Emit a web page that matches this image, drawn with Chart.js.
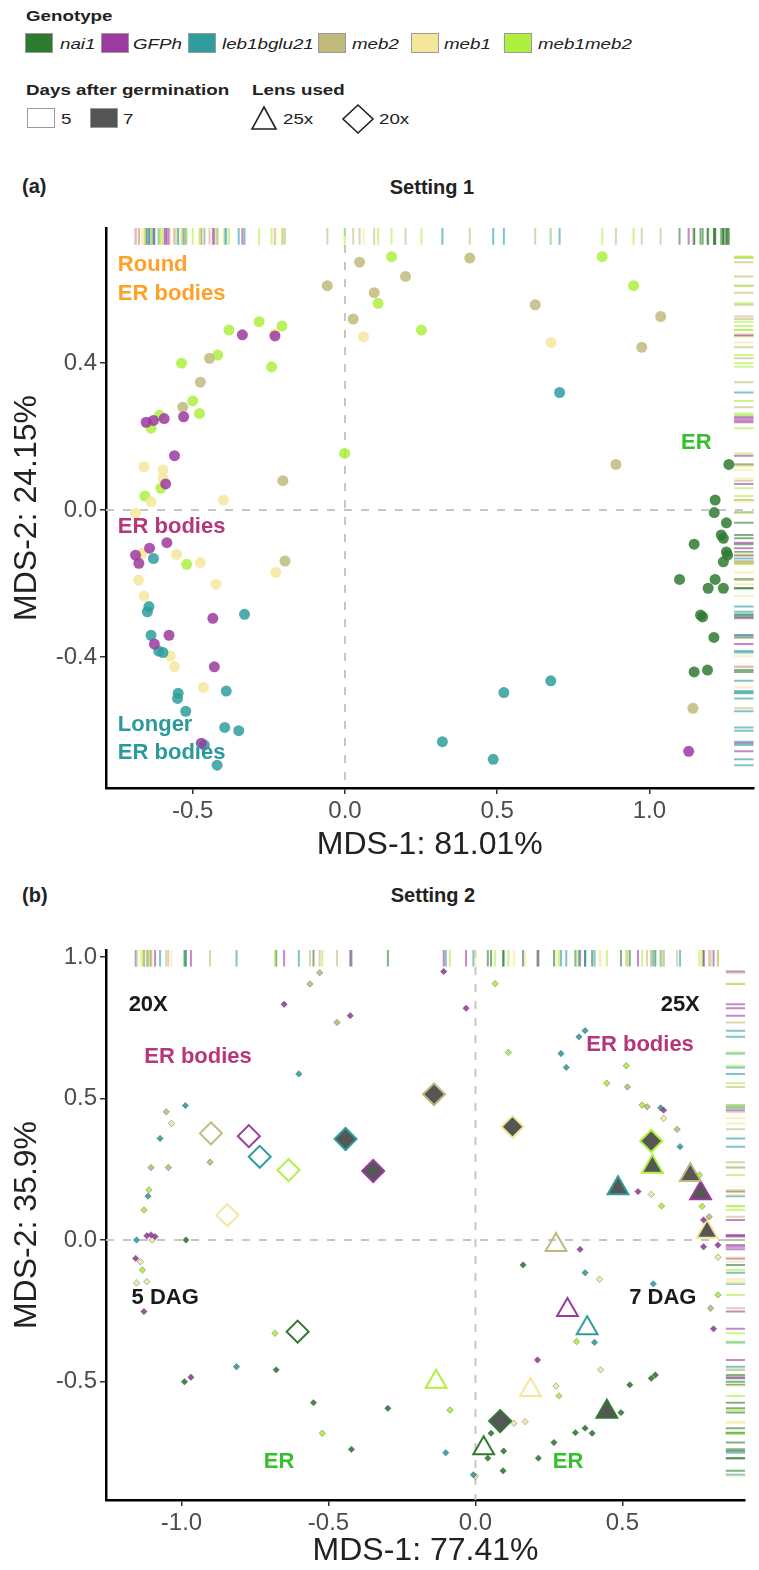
<!DOCTYPE html>
<html lang="en">
<head>
<meta charset="UTF-8">
<title>MDS of ER morphology - Setting 1 / Setting 2</title>
<script src="https://cdn.jsdelivr.net/npm/chart.js"></script>
<style>
  body { margin: 0; background: #fff; font-family: 'Liberation Sans', Arial, sans-serif; color: #222; }
  #page { position: relative; width: 759px; height: 1570px; overflow: hidden; }
  .t { position: absolute; white-space: nowrap; transform-origin: left center; transform: translateY(-50%) scaleX(1.25); font-size: 15px; }
  .b { font-weight: bold; }
  .i { font-style: italic; }
  .key { position: absolute; width: 28px; height: 20px; box-sizing: border-box; border: 1px solid #9a9a9a; }
  .ptitle { position: absolute; font-weight: bold; font-size: 20px; transform: translateY(-50%); white-space: nowrap; }
  canvas { position: absolute; left: 0; }
</style>
</head>
<body>
<div id="page">
  <div id="legend"></div>

  <div class="ptitle" style="left:22px; top:186px">(a)</div>
  <div class="ptitle" style="left:432px; top:187px; transform:translate(-50%,-50%)">Setting 1</div>
  <canvas id="plotA" width="759" height="670" style="top:200px"></canvas>

  <div class="ptitle" style="left:22px; top:895px">(b)</div>
  <div class="ptitle" style="left:433px; top:895px; transform:translate(-50%,-50%)">Setting 2</div>
  <canvas id="plotB" width="759" height="670" style="top:900px"></canvas>
</div>

<script>
  // genotypes and their colours (legend order)
  const genotypes = ['nai1', 'GFPh', 'leb1bglu21', 'meb2', 'meb1', 'meb1meb2'];
  const genoColors = ['#2f7a31', '#9c3aa0', '#2f9d9d', '#bfba7c', '#f4e79c', '#aef040'];

  // ---- Setting 1: [MDS-1, MDS-2] per sample ----
  const s1_nai1 = [[1.261,0.124],[1.216,0.027],[1.213,-0.007],[1.253,-0.035],[1.236,-0.068],[1.243,-0.077],[1.147,-0.093],
    [1.253,-0.114],[1.257,-0.123],[1.243,-0.141],[1.099,-0.189],[1.216,-0.189],[1.193,-0.213],[1.243,-0.213],
    [1.168,-0.286],[1.175,-0.291],[1.212,-0.347],[1.147,-0.441],[1.191,-0.436]];
  const s1_GFPh = [[-0.337,0.477],[-0.230,0.474],[-0.530,0.254],[-0.653,0.239],[-0.629,0.244],[-0.594,0.249],[-0.560,0.148],
    [-0.589,0.071],[-0.585,-0.089],[-0.642,-0.104],[-0.688,-0.123],[-0.677,-0.145],[-0.578,-0.341],[-0.626,-0.365],
    [-0.434,-0.295],[-0.429,-0.427],[-0.472,-0.635],[1.129,-0.657]];
  const s1_leb1 = [[0.705,0.320],[-0.629,-0.132],[-0.644,-0.263],[-0.649,-0.277],[-0.330,-0.284],[-0.637,-0.341],[-0.612,-0.384],
    [-0.598,-0.388],[-0.548,-0.499],[-0.550,-0.513],[-0.390,-0.493],[-0.523,-0.548],[-0.395,-0.592],[-0.349,-0.601],
    [-0.462,-0.640],[-0.420,-0.695],[0.676,-0.465],[0.522,-0.497],[0.320,-0.631],[0.487,-0.679]];
  const s1_meb2 = [[0.410,0.686],[0.048,0.675],[0.199,0.636],[-0.058,0.611],[0.096,0.592],[0.625,0.559],[1.037,0.527],
    [0.027,0.520],[0.975,0.443],[-0.445,0.413],[-0.475,0.348],[-0.533,0.280],[0.890,0.124],[-0.204,0.080],
    [-0.197,-0.139],[1.143,-0.540]];
  const s1_meb1 = [[-0.230,0.480],[0.061,0.472],[0.677,0.456],[-0.660,0.118],[-0.598,0.109],[-0.598,0.086],[-0.637,0.023],
    [-0.399,0.027],[-0.688,-0.009],[-0.667,-0.118],[-0.553,-0.121],[-0.475,-0.143],[-0.227,-0.170],[-0.678,-0.191],
    [-0.424,-0.202],[-0.660,-0.234],[-0.574,-0.398],[-0.560,-0.427],[-0.465,-0.483]];
  const s1_meb1meb2 = [[0.153,0.690],[0.845,0.690],[0.109,0.563],[0.948,0.611],[0.251,0.490],[-0.207,0.501],[-0.282,0.513],
    [-0.381,0.490],[-0.537,0.400],[-0.418,0.422],[-0.241,0.390],[-0.500,0.297],[-0.478,0.263],[-0.609,0.258],
    [-0.637,0.223],[-0.001,0.154],[-0.605,0.059],[-0.657,0.038],[-0.520,-0.148]];

  // ---- Setting 2: single images ----
  const s2_nai1 = [[-0.985,0.000],[0.162,-0.088],[0.525,-0.512],[0.598,-0.489],[0.612,-0.477],[0.495,-0.610],[0.340,-0.681],
    [0.373,-0.665],[0.397,-0.683],[0.053,-0.683],[0.267,-0.716],[0.096,-0.746],[0.042,-0.771],[0.214,-0.771],
    [0.094,-0.816],[-0.298,-0.595],[-0.551,-0.575],[-0.422,-0.740],[-0.678,-0.459],[-0.990,-0.501]];
  const s2_GFPh = [[-0.108,0.949],[-0.651,0.833],[-0.032,0.819],[-0.426,0.793],[-1.118,0.015],[-1.104,0.018],[-1.090,0.012],
    [-1.156,-0.065],[-1.128,-0.253],[0.640,0.459],[0.553,0.171],[0.776,0.071],[0.776,-0.024],[0.825,-0.018],
    [0.356,-0.033],[0.810,-0.314],[0.211,-0.424],[-0.968,-0.485]];
  const s2_leb1 = [[-0.601,0.587],[-0.987,0.475],[-1.073,0.359],[-1.114,0.155],[-1.153,0.000],[0.291,0.659],[0.309,0.610],
    [0.373,0.740],[0.352,0.718],[0.630,0.467],[0.696,0.330],[0.373,-0.116],[0.605,-0.155],[0.405,-0.362],
    [-0.101,-0.752],[-0.007,-0.830],[-0.813,-0.448]];
  const s2_meb2 = [[-0.530,0.945],[-0.563,0.905],[-0.471,0.769],[-1.052,0.453],[-0.903,0.275],[-1.104,0.256],[-1.045,0.256],
    [0.517,0.541],[0.584,0.471],[0.686,0.391],[0.795,0.082],[0.800,-0.241]];
  const s2_meb1 = [[-1.034,0.412],[-1.100,0.000],[-1.140,-0.077],[-1.153,-0.152],[-1.118,-0.147],[0.640,0.430],[0.598,0.161],
    [0.825,-0.061],[0.422,-0.139],[0.426,-0.459],[0.274,-0.516],[0.131,-0.648],[0.169,-0.642],[0.000,-0.835]];
  const s2_meb1meb2 = [[0.067,0.906],[-1.111,0.177],[-1.128,0.106],[-1.133,-0.106],[0.112,0.663],[0.513,0.616],[0.447,0.554],
    [0.567,0.477],[0.633,0.120],[0.762,0.230],[0.771,0.119],[0.825,-0.194],[0.344,-0.359],[0.284,-0.551],
    [-0.087,-0.601],[-0.521,-0.683],[-0.682,-0.330]];

  // Setting 2 group centres, one per genotype (legend order)
  const dia5 = [[-0.605,-0.324],[-0.771,0.367],[-0.734,0.294],[-0.900,0.377],[-0.844,0.088],[-0.636,0.247]]; // 20x, 5 DAG
  const dia7 = [[0.084,-0.640],[-0.348,0.244],[-0.442,0.357],[-0.141,0.515],[0.126,0.400],[0.598,0.350]];   // 20x, 7 DAG
  const tri5 = [[0.028,-0.736],[0.313,-0.247],[0.380,-0.312],[0.274,-0.018],[0.187,-0.530],[-0.134,-0.501]]; // 25x, 5 DAG
  const tri7 = [[0.447,-0.607],[0.766,0.165],[0.485,0.183],[0.731,0.230],[0.788,0.029],[0.602,0.259]];     // 25x, 7 DAG

  const s1Ticks = { x: [-0.5, 0, 0.5, 1.0], y: [-0.4, 0, 0.4] };
  const s2Ticks = { x: [-1.0, -0.5, 0, 0.5], y: [-0.5, 0, 0.5, 1.0] };

  const ORANGE = '#ffa028', GREEN = '#35c02c', MAGENTA = '#b5367b', TEAL = '#2a9a9a';

  function rgba(hex, a) {
    const n = parseInt(hex.slice(1), 16);
    return `rgba(${n >> 16},${(n >> 8) & 255},${n & 255},${a})`;
  }
  const toXY = arr => arr.map(p => ({ x: p[0], y: p[1] }));

  // ---------- legend ----------
  const legend = document.getElementById('legend');
  function add(html) { legend.insertAdjacentHTML('beforeend', html); }
  add('<div class="t b" style="left:26px;top:15px">Genotype</div>');
  const keyX = [25, 101, 188, 318, 411, 504];
  const labX = [60, 133, 222, 352, 444, 538];
  genotypes.forEach((g, i) => {
    add(`<div class="key" style="left:${keyX[i]}px;top:33px;background:${genoColors[i]}"></div>`);
    add(`<div class="t i" style="left:${labX[i]}px;top:43px">${g}</div>`);
  });
  add('<div class="t b" style="left:26px;top:89px">Days after germination</div>');
  add('<div class="key" style="left:27px;top:108px;background:#fff"></div>');
  add('<div class="t" style="left:61px;top:118px">5</div>');
  add('<div class="key" style="left:90px;top:108px;background:#555"></div>');
  add('<div class="t" style="left:123px;top:118px">7</div>');
  add('<div class="t b" style="left:252px;top:89px">Lens used</div>');
  add('<svg style="position:absolute;left:249px;top:104px" width="30" height="28"><polygon points="15,3 27,25 3,25" fill="none" stroke="#222" stroke-width="1.6"/></svg>');
  add('<div class="t" style="left:283px;top:118px">25x</div>');
  add('<svg style="position:absolute;left:341px;top:103px" width="34" height="32"><polygon points="17,2 32,16 17,30 2,16" fill="none" stroke="#222" stroke-width="1.6"/></svg>');
  add('<div class="t" style="left:379px;top:118px">20x</div>');

  // ---------- plugin: zero lines, rugs, text labels ----------
  const paper = {
    id: 'paper',
    beforeDatasetsDraw(chart) {
      const { ctx, chartArea: a, scales: { x, y } } = chart;
      ctx.save();
      ctx.strokeStyle = '#c6c6c6';
      ctx.lineWidth = 2;
      ctx.setLineDash([8, 9]);
      const x0 = x.getPixelForValue(0), y0 = y.getPixelForValue(0);
      ctx.beginPath();
      ctx.moveTo(x0, a.top); ctx.lineTo(x0, a.bottom);
      ctx.moveTo(a.left, y0); ctx.lineTo(a.right, y0);
      ctx.stroke();
      ctx.setLineDash([]);
      // rugs on top and right
      const lenT = (a.bottom - a.top) * 0.03, lenR = (a.right - a.left) * 0.03;
      chart.data.datasets.forEach(ds => {
        if (!ds.rug) return;
        ctx.strokeStyle = ds.rug;
        ctx.lineWidth = 2;
        ds.data.forEach(p => {
          const px = x.getPixelForValue(p.x), py = y.getPixelForValue(p.y);
          ctx.beginPath();
          ctx.moveTo(px, a.top); ctx.lineTo(px, a.top + lenT);
          ctx.moveTo(a.right - lenR, py); ctx.lineTo(a.right, py);
          ctx.stroke();
        });
      });
      ctx.restore();
    },
    afterDatasetsDraw(chart, args, opts) {
      const { ctx, scales: { x, y } } = chart;
      ctx.save();
      ctx.textAlign = 'left';
      ctx.textBaseline = 'middle';
      (opts.notes || []).forEach(n => {
        ctx.font = 'bold 22px "Liberation Sans", Arial, sans-serif';
        ctx.fillStyle = n.color;
        ctx.fillText(n.text, x.getPixelForValue(n.x), y.getPixelForValue(n.y));
      });
      ctx.restore();
    }
  };

  function axis(min, max, ticks, title, fitSize, horizontal, titlePad) {
    return {
      type: 'linear', min, max,
      afterBuildTicks: s => { s.ticks = ticks.map(v => ({ value: v })); },
      afterFit: s => { if (horizontal) s.height = fitSize; else s.width = fitSize; },
      grid: { drawOnChartArea: false, drawTicks: true, tickLength: 6, color: '#333', lineWidth: 1.5 },
      border: { display: true, color: '#000', width: 2.5 },
      ticks: { color: '#4d4d4d', font: { size: 24 }, padding: 3, callback: v => v.toFixed(1) },
      title: {
        display: true, text: title, color: '#222', font: { size: 32 },
        padding: horizontal ? { top: 0, bottom: titlePad } : { top: titlePad, bottom: 0 }
      }
    };
  }

  function mdsChart(id, datasets, o) {
    return new Chart(document.getElementById(id), {
      type: 'scatter',
      data: { datasets },
      options: {
        responsive: false,
        animation: false,
        layout: { padding: { top: o.padTop, left: 0, right: 0, bottom: 0 } },
        plugins: { legend: { display: false }, tooltip: { enabled: false }, paper: { notes: o.notes } },
        scales: {
          x: axis(o.xmin, o.xmax, o.xticks, o.xtitle, o.xh, true, o.xtPad),
          y: axis(o.ymin, o.ymax, o.yticks, o.ytitle, 106, false, 8)
        }
      },
      plugins: [paper]
    });
  }

  Chart.defaults.font.family = '"Liberation Sans", Arial, sans-serif';

  // ---------- Setting 1 ----------
  const s1Sets = [s1_nai1, s1_GFPh, s1_leb1, s1_meb2, s1_meb1, s1_meb1meb2];
  const dsA = s1Sets.map((pts, i) => ({
    label: genotypes[i],
    data: toXY(pts),
    pointStyle: 'circle',
    pointRadius: 5.5,
    backgroundColor: rgba(genoColors[i], 0.85),
    borderWidth: 0,
    rug: rgba(genoColors[i], 0.6)
  }));
  mdsChart('plotA', dsA, {
    padTop: 28, xh: 82, xtPad: 6,
    xmin: -0.785, xmax: 1.342, ymin: -0.757, ymax: 0.768,
    xticks: s1Ticks.x, yticks: s1Ticks.y,
    xtitle: 'MDS-1: 81.01%', ytitle: 'MDS-2: 24.15%',
    notes: [
      { text: 'Round', x: -0.746, y: 0.668, color: ORANGE },
      { text: 'ER bodies', x: -0.746, y: 0.589, color: ORANGE },
      { text: 'ER', x: 1.104, y: 0.183, color: GREEN },
      { text: 'ER bodies', x: -0.746, y: -0.046, color: MAGENTA },
      { text: 'Longer', x: -0.746, y: -0.586, color: TEAL },
      { text: 'ER bodies', x: -0.746, y: -0.662, color: TEAL }
    ]
  });

  // ---------- Setting 2 ----------
  const s2Sets = [s2_nai1, s2_GFPh, s2_leb1, s2_meb2, s2_meb1, s2_meb1meb2];
  const dsB = s2Sets.map((pts, i) => ({
    label: genotypes[i],
    data: toXY(pts),
    pointStyle: 'rectRot',
    pointRadius: 3.2,
    backgroundColor: rgba(genoColors[i], 0.9),
    borderColor: 'rgba(60,60,60,0.45)',
    borderWidth: 0.8,
    rug: rgba(genoColors[i], 0.6)
  }));
  const centre = (pts, style, filled, label) => ({
    label,
    data: toXY(pts),
    pointStyle: style,
    pointRadius: style === 'triangle' ? 12 : 11,
    backgroundColor: filled ? '#565656' : 'rgba(255,255,255,0)',
    borderColor: genoColors,
    borderWidth: 2
  });
  dsB.push(centre(tri7, 'triangle', true, '25x 7 DAG'));
  dsB.push(centre(dia7, 'rectRot', true, '20x 7 DAG'));
  dsB.push(centre(tri5, 'triangle', false, '25x 5 DAG'));
  dsB.push(centre(dia5, 'rectRot', false, '20x 5 DAG'));
  mdsChart('plotB', dsB, {
    padTop: 50, xh: 70, xtPad: 0,
    xmin: -1.257, xmax: 0.917, ymin: -0.919, ymax: 1.025,
    xticks: s2Ticks.x, yticks: s2Ticks.y,
    xtitle: 'MDS-1: 77.41%', ytitle: 'MDS-2: 35.9%',
    notes: [
      { text: '20X', x: -1.18, y: 0.830, color: '#1a1a1a' },
      { text: '25X', x: 0.63, y: 0.830, color: '#1a1a1a' },
      { text: 'ER bodies', x: -1.127, y: 0.647, color: MAGENTA },
      { text: 'ER bodies', x: 0.377, y: 0.689, color: MAGENTA },
      { text: '5 DAG', x: -1.17, y: -0.205, color: '#1a1a1a' },
      { text: '7 DAG', x: 0.523, y: -0.205, color: '#1a1a1a' },
      { text: 'ER', x: -0.72, y: -0.784, color: GREEN },
      { text: 'ER', x: 0.263, y: -0.784, color: GREEN }
    ]
  });
</script>
</body>
</html>
